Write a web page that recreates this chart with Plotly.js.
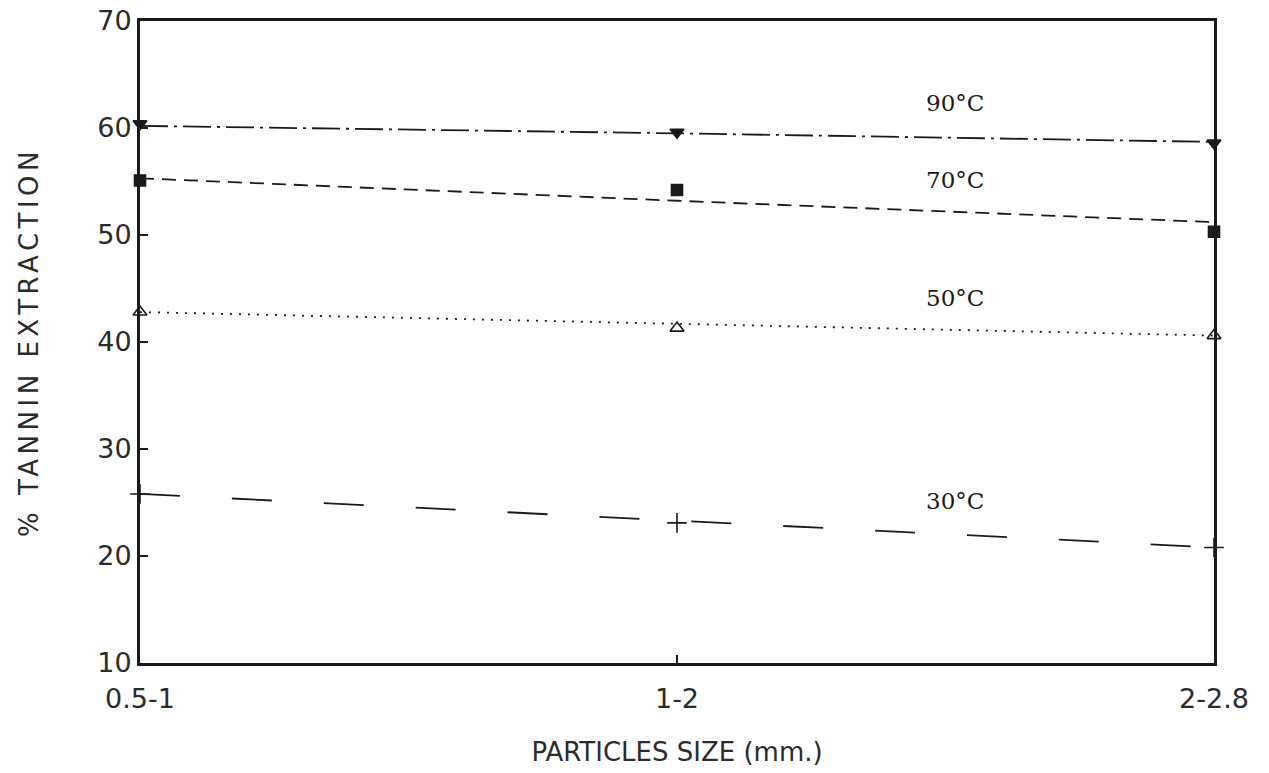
<!DOCTYPE html>
<html>
<head>
<meta charset="utf-8">
<script src="https://cdn.plot.ly/plotly-3.0.1.min.js"></script>
<style>
  html, body { margin: 0; padding: 0; background: #ffffff; }
  #chart { width: 1269px; height: 773px; }
  /* the vertical axis title is set in a widely spaced plotter lettering */
  #chart .ytitle { letter-spacing: 4.5px; }
</style>
</head>
<body>
<div id="chart"></div>
<script>
// Particle size classes (mm)
const sizes = ['0.5-1', '1-2', '2-2.8'];

// Measured tannin extraction (%) at each temperature
const t90 = [60.4, 59.6, 58.6];
const t70 = [55.1, 54.2, 50.3];
const t50 = [42.8, 41.3, 40.6];
const t30 = [25.8, 23.1, 20.8];

// Straight trend lines drawn through each temperature series
const fit90 = [60.2, 59.5, 58.7];
const fit70 = [55.3, 53.2, 51.2];
const fit50 = [42.8, 41.7, 40.6];
const fit30 = [25.8, 23.3, 20.8];

// Curve labels and the y level where each is written
const labels = ['90°C', '70°C', '50°C', '30°C'];
const labelY = [62.3, 55.1, 44.1, 25.1];
const labelX = 1.46;

const ink = '#1a1a1a';

function trend(y, dash) {
  return {
    x: sizes, y: y, type: 'scatter', mode: 'lines',
    line: { color: ink, width: 1.8, dash: dash },
    hoverinfo: 'skip', showlegend: false
  };
}
function points(y, symbol, size) {
  return {
    x: sizes, y: y, type: 'scatter', mode: 'markers',
    marker: { symbol: symbol, size: size, color: ink,
              line: { color: ink, width: 1.6 } },
    cliponaxis: false, showlegend: false
  };
}

const data = [
  trend(fit90, '28px,6px,3px,6px'),
  trend(fit70, '14px,8px'),
  trend(fit50, '2px,7px'),
  trend(fit30, '40px,52px'),
  points(t90, 'triangle-down', 12),
  points(t70, 'square', 11),
  points(t50, 'triangle-up-open', 12),
  points(t30, 'cross-thin-open', 14)
];

const annotations = labels.map((txt, i) => ({
  x: labelX, y: labelY[i], xref: 'x', yref: 'y',
  text: txt, showarrow: false, xanchor: 'left',
  font: { family: 'DejaVu Serif, serif', size: 23, color: ink }
}));

const tickFont = { family: 'DejaVu Sans, sans-serif', size: 27, color: '#2b2b2b' };
const titleFont = { family: 'DejaVu Sans, sans-serif', size: 26, color: '#2b2b2b' };

const layout = {
  width: 1269, height: 773,
  margin: { l: 140, r: 55, t: 21, b: 110 },
  paper_bgcolor: '#ffffff', plot_bgcolor: '#ffffff',
  showlegend: false,
  font: tickFont,
  xaxis: {
    type: 'category', range: [0, 2],
    showgrid: false, zeroline: false,
    showline: true, linecolor: ink, linewidth: 3, mirror: true,
    ticks: 'inside', ticklen: 8, tickwidth: 2, tickcolor: ink,
    tickfont: tickFont, ticklabelstandoff: 10,
    title: { text: 'PARTICLES SIZE (mm.)', font: titleFont, standoff: 30 }
  },
  yaxis: {
    range: [10, 70], dtick: 10, tick0: 10,
    showgrid: false, zeroline: false,
    showline: true, linecolor: ink, linewidth: 3, mirror: true,
    ticks: 'inside', ticklen: 8, tickwidth: 2, tickcolor: ink,
    tickfont: tickFont,
    title: { text: '% TANNIN EXTRACTION', font: titleFont, standoff: 52 }
  },
  annotations: annotations
};

Plotly.newPlot('chart', data, layout, { displayModeBar: false, staticPlot: true });
</script>
</body>
</html>
